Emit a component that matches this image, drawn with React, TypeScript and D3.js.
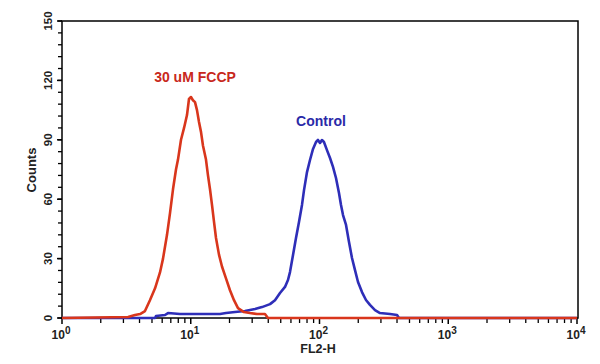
import React from "react";
import * as d3 from "d3";

// FL2-H values (log axis) and counts
const fccpFL2 = [1, 3.26, 3.69, 4.04, 4.41, 4.82, 5.28, 5.77, 6.09, 6.54, 6.9, 7.28, 7.68, 7.96, 8.4, 8.87, 9.35, 9.69, 10.04, 10.4, 10.79, 11.18, 11.59, 12.01, 12.45, 13.13, 13.61, 14.11, 14.63, 15.16, 15.71, 16.57, 17.48, 18.78, 20.17, 21.67, 23.28, 25.9, 28.8, 32.7, 37.7, 39.8, 10000];
const fccpCounts = [0, 0.5, 1.5, 2, 3.5, 9, 15, 23, 30, 42, 53, 65, 75, 80, 90, 96, 102.5, 110.6, 111.6, 110, 109, 105, 99, 94, 87, 80, 72, 65, 57, 48.5, 40.4, 32, 26, 20, 14, 9, 5, 3, 2.5, 2, 2, 0, 0];

const controlFL2 = [1, 5.28, 5.37, 6.31, 6.66, 8.25, 11.8, 16.88, 18.78, 22.07, 26.39, 31.55, 35.74, 41.27, 45.12, 49.35, 53.95, 56.91, 59.0, 62.27, 65.68, 69.3, 73.11, 75.81, 79.98, 84.37, 89.07, 93.97, 97.29, 100.9, 104.5, 108.3, 114.3, 120.7, 127.3, 134.3, 141.7, 146.9, 152.3, 160.7, 169.5, 178.8, 188.7, 199.1, 213.8, 229.6, 246.6, 269.8, 295.1, 353.2, 400, 414, 10000];
const controlCounts = [0, 0, 1, 1.5, 2.5, 2, 2, 2, 2.5, 3, 3.5, 4.5, 5.5, 7, 9, 12.6, 15.7, 19.2, 23.2, 31.8, 40.4, 48.5, 57.1, 64.6, 73.7, 79.8, 85.4, 88.9, 89.9, 88.4, 89.9, 88.9, 84.8, 80.8, 76.3, 70.7, 63.1, 57.1, 52.0, 47.0, 38.4, 30.3, 24.2, 18.2, 13.1, 9.1, 6.6, 4, 2.5, 2, 1.5, 0, 0];

const yMajorTicks = [0, 30, 60, 90, 120, 150];
const xDecades = [0, 1, 2, 3, 4];

const W = 600;
const H = 364;
const left = 62;
const right = 577;
const top = 21;
const bottom = 318;

export default function App() {
  const x = d3.scaleLog().domain([1, 10000]).range([left, right]);
  const y = d3.scaleLinear().domain([0, 150]).range([bottom, top]);

  const line = d3
    .line<[number, number]>()
    .x((d) => x(d[0]))
    .y((d) => y(d[1]));

  const fccp: [number, number][] = fccpFL2.map((v, i) => [v, fccpCounts[i]]);
  const control: [number, number][] = controlFL2.map((v, i) => [v, controlCounts[i]]);

  const yMinor = d3.range(0, 151, 6);
  const xMinor: number[] = [];
  for (let e = 0; e < 4; e++) {
    for (let k = 2; k <= 9; k++) xMinor.push(k * Math.pow(10, e));
  }

  const font = "'Liberation Sans', Arial, sans-serif";

  return (
    <svg
      width={W}
      height={H}
      style={{ position: "absolute", left: 0, top: 0, background: "#fff" }}
      fontFamily={font}
    >
      {/* frame */}
      <rect x={left} y={top} width={right - left + 1} height={bottom - top} fill="none" stroke="#000" strokeWidth={1.5} />

      {/* y ticks */}
      {yMinor.map((t) => (
        <line key={"ym" + t} x1={left - 4} x2={left} y1={y(t)} y2={y(t)} stroke="#000" strokeWidth={1.3} />
      ))}
      {yMajorTicks.map((t) => (
        <g key={"yM" + t}>
          <line x1={left - 5} x2={left} y1={y(t)} y2={y(t)} stroke="#000" strokeWidth={1.5} />
          <text
            transform={`translate(${left - 10},${y(t)}) rotate(-90)`}
            textAnchor="middle"
            fontSize={11.5}
            fontWeight="bold"
            fill="#222"
          >
            {t}
          </text>
        </g>
      ))}

      {/* x ticks */}
      {xMinor.map((t) => (
        <line key={"xm" + t} x1={x(t)} x2={x(t)} y1={bottom} y2={bottom + 5} stroke="#000" strokeWidth={1.3} />
      ))}
      {xDecades.map((e) => (
        <g key={"xM" + e}>
          <line x1={x(Math.pow(10, e))} x2={x(Math.pow(10, e))} y1={bottom} y2={bottom + 6} stroke="#000" strokeWidth={1.5} />
          <text x={x(Math.pow(10, e)) - 1} y={bottom + 21} textAnchor="middle" fontSize={12} fontWeight="bold" fill="#222">
            10
            <tspan dy={-5} fontSize={10}>
              {e}
            </tspan>
          </text>
        </g>
      ))}

      {/* axis titles */}
      <text x={318} y={353} textAnchor="middle" fontSize={12.5} fontWeight="bold" fill="#222">
        FL2-H
      </text>
      <text transform={`translate(36,170) rotate(-90)`} textAnchor="middle" fontSize={13} fontWeight="bold" fill="#222">
        Counts
      </text>

      {/* histograms */}
      <path d={line(control) || ""} fill="none" stroke="#2e2eb8" strokeWidth={2.6} strokeLinejoin="round" />
      <path d={line(fccp) || ""} fill="none" stroke="#d9361c" strokeWidth={2.6} strokeLinejoin="round" />

      {/* labels */}
      <text x={195} y={82} textAnchor="middle" fontSize={14} fontWeight="bold" fill="#c8281c">
        30 uM FCCP
      </text>
      <text x={321} y={126} textAnchor="middle" fontSize={14} fontWeight="bold" fill="#2a2aa8">
        Control
      </text>
    </svg>
  );
}
